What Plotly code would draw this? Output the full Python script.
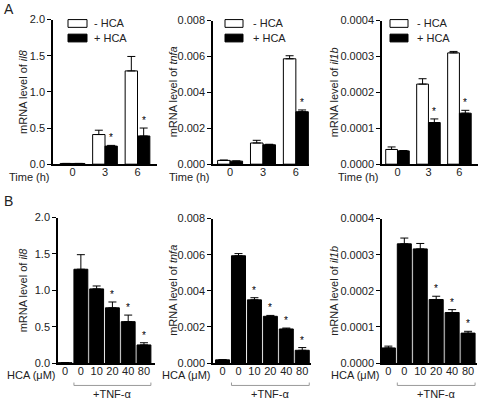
import plotly.graph_objects as go

W, H = 483, 406

# ---------------- Panel A data (time course) ----------------
time_labels = ["0", "3", "6"]
a_genes = ["il8", "tnfa", "il1b"]

a_il8_minus = [0.01, 0.41, 1.29]
a_il8_minus_err = [0.0, 0.06, 0.20]
a_il8_plus = [0.01, 0.25, 0.39]
a_il8_plus_err = [0.0, 0.01, 0.11]
a_il8_sig = [False, True, True]

a_tnfa_minus = [0.00021, 0.00118, 0.00587]
a_tnfa_minus_err = [0.00002, 0.00015, 0.00017]
a_tnfa_plus = [0.00017, 0.00108, 0.00292]
a_tnfa_plus_err = [0.00001, 0.00003, 0.00010]
a_tnfa_sig = [False, False, True]

a_il1b_minus = [0.000041, 0.000223, 0.000310]
a_il1b_minus_err = [0.000007, 0.000015, 0.000004]
a_il1b_plus = [0.000037, 0.000116, 0.000142]
a_il1b_plus_err = [0.000001, 0.000010, 0.000008]
a_il1b_sig = [False, True, True]

# ---------------- Panel B data (dose response) ----------------
hca_labels = ["0", "0", "10", "20", "40", "80"]

b_il8 = [0.005, 1.29, 1.02, 0.76, 0.57, 0.25]
b_il8_err = [0.0, 0.20, 0.04, 0.08, 0.09, 0.03]
b_il8_sig = [False, False, False, True, True, True]

b_tnfa = [0.00018, 0.00594, 0.00350, 0.00259, 0.00189, 0.00071]
b_tnfa_err = [0.00001, 0.00012, 0.00012, 0.00005, 0.00005, 0.00015]
b_tnfa_sig = [False, False, True, True, True, True]

b_il1b = [0.000042, 0.000330, 0.000316, 0.000176, 0.000140, 0.000083]
b_il1b_err = [0.000005, 0.000016, 0.000015, 0.000009, 0.000008, 0.000005]
b_il1b_sig = [False, False, False, True, True, True]

y_max = [2.0, 0.008, 0.0004]
y_dtick = [0.5, 0.002, 0.0001]
y_fmt = [".1f", ".3f", ".4f"]

FONT = "Liberation Sans, Arial, sans-serif"
TXT = "#222222"

# pixel geometry of plot areas (left, right, top, bottom)
geomA = [(53, 157, 14, 163), (213, 309, 15, 163), (382, 478, 15, 163)]
geomB = [(58, 155, 218, 368), (213, 311, 219, 368), (382, 477, 219, 368)]
xrangeA = [[-0.6, 2.6], [-0.52, 2.4], [-0.5, 2.6]]
xrangeB = [[-0.45, 5.7], [-0.6, 5.55], [-0.4, 5.56]]
title_x = [23, 173, 334]
legend_off = [(15, 34, 39), (12, 30, 38), (8, 26, 33)]

fig = go.Figure()
layout = dict(
    width=W, height=H, margin=dict(l=0, r=0, t=0, b=0),
    paper_bgcolor="white", plot_bgcolor="white", showlegend=False,
    font=dict(family=FONT, size=11, color=TXT),
)
shapes, annotations = [], []

def px(x):
    return x / W

def py(y):
    return 1 - y / H

A_data = [
    (a_il8_minus, a_il8_minus_err, a_il8_plus, a_il8_plus_err, a_il8_sig),
    (a_tnfa_minus, a_tnfa_minus_err, a_tnfa_plus, a_tnfa_plus_err, a_tnfa_sig),
    (a_il1b_minus, a_il1b_minus_err, a_il1b_plus, a_il1b_plus_err, a_il1b_sig),
]
B_data = [
    (b_il8, b_il8_err, b_il8_sig),
    (b_tnfa, b_tnfa_err, b_tnfa_sig),
    (b_il1b, b_il1b_err, b_il1b_sig),
]

BW_A = 0.38
BW_B = 0.88

def axis_setup(n, geom, xr, tickvals, ticktext, k):
    l, r, t, b = geom
    xa = "xaxis" if n == 1 else f"xaxis{n}"
    ya = "yaxis" if n == 1 else f"yaxis{n}"
    layout[xa] = dict(
        domain=[px(l), px(r)], range=xr, anchor="y" if n == 1 else f"y{n}",
        showline=True, linecolor="black", linewidth=1.5, showgrid=False,
        zeroline=False, ticks="", ticklabelstandoff=-3,
        tickvals=tickvals, ticktext=ticktext,
        tickfont=dict(size=11, color=TXT, family=FONT),
    )
    layout[ya] = dict(
        domain=[py(b), py(t)], range=[0, y_max[k]], anchor="x" if n == 1 else f"x{n}",
        showline=True, linecolor="black", linewidth=1.5, showgrid=False,
        zeroline=False, ticks="outside", ticklen=4, tickwidth=1.2, tickcolor="black",
        dtick=y_dtick[k], tick0=0, tickformat=y_fmt[k],
        tickfont=dict(size=11, color=TXT, family=FONT),
    )

err_style = dict(type="data", symmetric=False, color="black", thickness=1, width=4)

def add_stars(xs, ys, sx, sy):
    for x, y in zip(sx, sy):
        annotations.append(dict(
            text="*", x=x, y=y, xref=xs, yref=ys, xanchor="center", yanchor="bottom",
            yshift=0, showarrow=False, font=dict(size=10, color="black", family=FONT),
        ))

# ---------- Panel A ----------
for k in range(3):
    n = k + 1
    xs, ys = ("x" if n == 1 else f"x{n}"), ("y" if n == 1 else f"y{n}")
    minus, minus_err, plus, plus_err, sig = A_data[k]
    idx = list(range(len(time_labels)))
    fig.add_trace(go.Bar(
        x=idx, y=minus, width=BW_A, offset=-BW_A, xaxis=xs, yaxis=ys,
        marker=dict(color="white", line=dict(color="black", width=1)),
        error_y=dict(array=minus_err, arrayminus=[0] * len(minus), **err_style),
    ))
    fig.add_trace(go.Bar(
        x=idx, y=plus, width=BW_A, offset=0, xaxis=xs, yaxis=ys,
        marker=dict(color="black", line=dict(color="black", width=1)),
        error_y=dict(array=plus_err, arrayminus=[0] * len(plus), **err_style),
    ))
    sx = [i + BW_A / 2 for i in idx if sig[i]]
    sy = [plus[i] + plus_err[i] for i in idx if sig[i]]
    add_stars(xs, ys, sx, sy)
    axis_setup(n, geomA[k], xrangeA[k], idx, time_labels, k)
    l, r, t, b = geomA[k]
    annotations.append(dict(
        text=f"mRNA level of <i>{a_genes[k]}</i>", textangle=-90,
        x=px(title_x[k]), y=py((t + b) / 2), xref="paper", yref="paper",
        xanchor="center", yanchor="middle",
        showarrow=False, font=dict(size=11, color=TXT, family=FONT),
    ))
    annotations.append(dict(
        text="Time (h)", x=px(l - 1), y=py(176), xref="paper", yref="paper",
        xanchor="right", yanchor="middle", showarrow=False,
        font=dict(size=11, color=TXT, family=FONT),
    ))
    # legend
    o0, o1, ot = legend_off[k]
    for j, (fill, lab, yc) in enumerate([("white", "- HCA", 18), ("black", "+ HCA", 33)]):
        shapes.append(dict(
            type="rect", xref="paper", yref="paper",
            x0=px(l + o0), x1=px(l + o1), y0=py(yc - 4), y1=py(yc + 4),
            fillcolor=fill, line=dict(color="black", width=1),
        ))
        annotations.append(dict(
            text=lab, x=px(l + ot), y=py(yc), xref="paper", yref="paper",
            xanchor="left", yanchor="middle", showarrow=False,
            font=dict(size=11, color=TXT, family=FONT),
        ))

# ---------- Panel B ----------
for k in range(3):
    n = k + 4
    xs, ys = f"x{n}", f"y{n}"
    vals, errs, sig = B_data[k]
    idx = list(range(len(hca_labels)))
    fig.add_trace(go.Bar(
        x=idx, y=vals, width=BW_B, xaxis=xs, yaxis=ys,
        marker=dict(color="black", line=dict(color="black", width=1)),
        error_y=dict(array=errs, arrayminus=[0] * len(vals), **err_style),
    ))
    sx = [i for i in idx if sig[i]]
    sy = [vals[i] + errs[i] for i in idx if sig[i]]
    add_stars(xs, ys, sx, sy)
    axis_setup(n, geomB[k], xrangeB[k], idx, hca_labels, k)
    l, r, t, b = geomB[k]
    annotations.append(dict(
        text=f"mRNA level of <i>{a_genes[k]}</i>", textangle=-90,
        x=px(title_x[k]), y=py((t + b) / 2), xref="paper", yref="paper",
        xanchor="center", yanchor="middle",
        showarrow=False, font=dict(size=11, color=TXT, family=FONT),
    ))
    annotations.append(dict(
        text="HCA (μM)", x=px(l), y=py(380), xref="paper", yref="paper",
        xanchor="right", yanchor="middle", showarrow=False,
        font=dict(size=11, color=TXT, family=FONT),
    ))
    # bracket under TNF-treated bars
    x0, x1 = 1 - BW_B / 2, len(idx) - 1 + BW_B / 2
    yb, yu = py(391), py(388)
    shapes.append(dict(
        type="path", xref=xs, yref="paper",
        path=f"M {x0},{yu} L {x0},{yb} L {x1},{yb} L {x1},{yu}",
        line=dict(color="#9a9a9a", width=1),
    ))
    annotations.append(dict(
        text="+TNF-α", x=(x0 + x1) / 2, y=py(400), xref=xs, yref="paper",
        xanchor="center", yanchor="middle", showarrow=False,
        font=dict(size=11, color=TXT, family=FONT),
    ))

annotations.append(dict(text="A", x=px(2), y=py(3), xref="paper", yref="paper",
                        xanchor="left", yanchor="middle", showarrow=False,
                        font=dict(size=14, color=TXT, family=FONT)))
annotations.append(dict(text="B", x=px(2), y=py(201), xref="paper", yref="paper",
                        xanchor="left", yanchor="middle", showarrow=False,
                        font=dict(size=14, color=TXT, family=FONT)))

layout["shapes"] = shapes
layout["annotations"] = annotations
fig.update_layout(**layout)
fig.write_html("out.html")
